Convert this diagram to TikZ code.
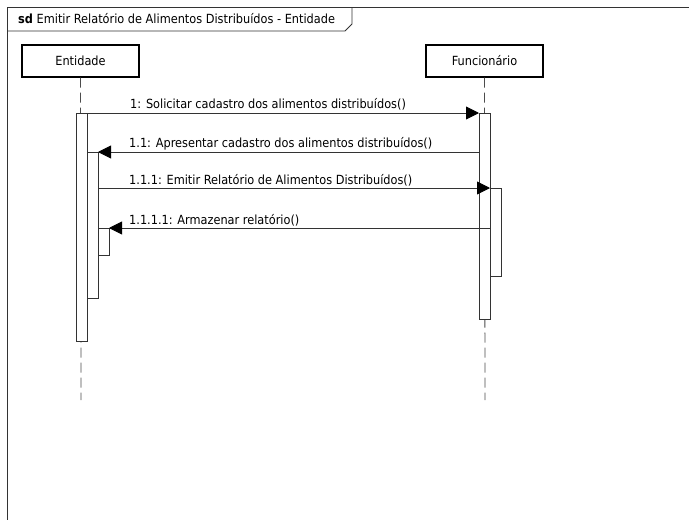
\documentclass[tikz,border=0pt]{standalone}
\usepackage{fontspec}
\setmainfont{DejaVu Sans Condensed}
\usetikzlibrary{arrows.meta}
\begin{document}
\begin{tikzpicture}[x=1pt,y=-1pt,
  lbl/.style={font=\fontsize{12.6}{14}\selectfont, inner sep=0pt, anchor=base west},
  headbox/.style={draw=black, line width=1.4pt, fill=white, minimum width=117pt, minimum height=32pt, font=\fontsize{12.6}{14}\selectfont},
  lifeline/.style={draw=black!70, line width=0.8pt, dash pattern=on 10pt off 5pt},
  actbox/.style={draw=black!80, line width=0.8pt, fill=white},
  msg/.style={draw=black!80, line width=0.9pt, -{Triangle[length=13pt,width=13pt,fill=black,color=black]}}]
  \useasboundingbox (0,0) rectangle (689,520);
  \fill[white] (0,0) rectangle (689,520);
  % frame of the interaction
  \draw[black!80, line width=1pt] (7,530) -- (7,7) -- (700,7);
  \draw[black!80, line width=0.8pt] (7,31) -- (345,31) -- (352,24) -- (352,7);
  \node[lbl] (title) at (18,23) {\textbf{sd} Emitir Relatório de Alimentos Distribuídos - Entidade};

  % lifeline heads
  \node[headbox] (ent) at (80.5,61) {Entidade};
  \node[headbox] (fun) at (484.5,61) {Funcionário};
  \coordinate (entend) at (81,400);
  \coordinate (funend) at (485,400);
  \draw[lifeline] (ent.south) -- (entend);
  \draw[lifeline] (fun.south) -- (funend);

  % activation bars
  \draw[actbox] (76,113) rectangle (87,341);
  \draw[actbox] (87,152) rectangle (98,298);
  \draw[actbox] (98,228) rectangle (109,255);
  \draw[actbox] (479,113) rectangle (490,319);
  \draw[actbox] (490,188) rectangle (501,276);

  \coordinate (m1s) at (87,113);   \coordinate (m1e) at (479,113);
  \coordinate (m2s) at (479,152);  \coordinate (m2e) at (98,152);
  \coordinate (m3s) at (98,188);   \coordinate (m3e) at (490,188);
  \coordinate (m4s) at (490,228);  \coordinate (m4e) at (109,228);

  % messages
  \draw[msg] (m1s) -- (m1e);
  \draw[msg] (m2s) -- (m2e);
  \draw[msg] (m3s) -- (m3e);
  \draw[msg] (m4s) -- (m4e);

  \node[lbl] (l1) at (130,108) {1: Solicitar cadastro dos alimentos distribuídos()};
  \node[lbl] (l2) at (129,147) {1.1: Apresentar cadastro dos alimentos distribuídos()};
  \node[lbl] (l3) at (129,184) {1.1.1: Emitir Relatório de Alimentos Distribuídos()};
  \node[lbl] (l4) at (129,224) {1.1.1.1: Armazenar relatório()};
\end{tikzpicture}
\end{document}
